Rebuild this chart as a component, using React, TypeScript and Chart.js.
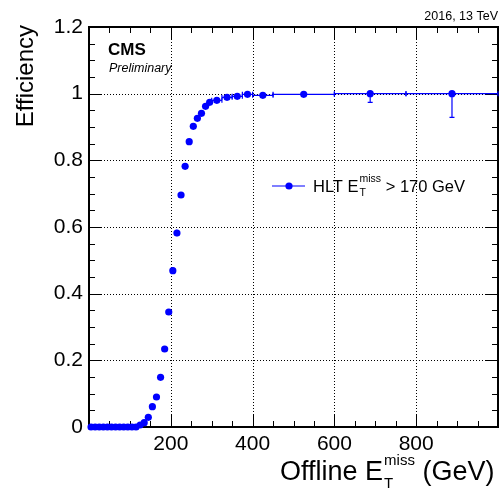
import React, { useEffect, useRef } from 'react';
import { Chart, registerables } from 'chart.js';

Chart.register(...registerables);

const FONT = '"Liberation Sans", Arial, Helvetica, sans-serif';
const BLUE = '#0000ff';

// Bin edges of the efficiency histogram (GeV)
const binEdges = [
  0, 10, 20, 30, 40, 50, 60, 70, 80, 90, 100, 110, 120, 130, 140, 150, 160, 170, 180, 190,
  200, 210, 220, 230, 240, 250, 260, 270, 280, 290, 300, 325, 350, 375, 400, 450, 600, 775, 1000,
];

// Efficiency per bin
const efficiency = [
  0, 0, 0, 0, 0, 0, 0, 0, 0, 0, 0, 0,
  0.006, 0.013, 0.029, 0.061, 0.09, 0.149, 0.234, 0.345, 0.469, 0.582, 0.696, 0.782, 0.856, 0.902,
  0.926, 0.941, 0.962, 0.974,
  0.98, 0.989, 0.992, 0.998, 0.995, 0.998, 1.0, 1.0,
];

// Asymmetric errors
const errLow = [
  0, 0, 0, 0, 0, 0, 0, 0, 0, 0, 0, 0,
  0.002, 0.003, 0.004, 0.005, 0.006, 0.007, 0.008, 0.009, 0.01, 0.01, 0.009, 0.008, 0.007, 0.006,
  0.006, 0.005, 0.005, 0.004,
  0.004, 0.004, 0.004, 0.003, 0.004, 0.004, 0.026, 0.071,
];
const errHigh = [
  0.001, 0.001, 0.001, 0.001, 0.001, 0.001, 0.001, 0.001, 0.001, 0.001, 0.001, 0.001,
  0.002, 0.003, 0.004, 0.005, 0.006, 0.007, 0.008, 0.009, 0.01, 0.01, 0.009, 0.008, 0.007, 0.006,
  0.006, 0.005, 0.004, 0.004,
  0.004, 0.003, 0.003, 0.002, 0.003, 0.002, 0, 0,
];

const xGridValues = [200, 400, 600, 800];
const yGridValues = [0.2, 0.4, 0.6, 0.8, 1.0];

const legendLabel = { main: 'HLT E', sub: 'T', sup: 'miss', tail: ' > 170 GeV' };
const xTitle = { main: 'Offline E', sub: 'T', sup: 'miss', tail: ' (GeV)' };
const yTitle = 'Efficiency';

const MARKER_R = 3.6;

function drawRich(ctx: CanvasRenderingContext2D, x: number, base: number, size: number, small: number,
  t: { main: string; sub: string; sup: string; tail: string }, subDy: number, supDy: number) {
  ctx.textAlign = 'left';
  ctx.textBaseline = 'alphabetic';
  ctx.font = `${size}px ${FONT}`;
  ctx.fillText(t.main, x, base);
  let cx = x + ctx.measureText(t.main).width + 1;
  ctx.font = `${small}px ${FONT}`;
  const w1 = ctx.measureText(t.sub).width;
  const w2 = ctx.measureText(t.sup).width;
  ctx.fillText(t.sub, cx, base + subDy);
  ctx.fillText(t.sup, cx, base - supDy);
  cx += Math.max(w1, w2);
  ctx.font = `${size}px ${FONT}`;
  ctx.fillText(t.tail, cx, base);
}

const rootPlugin = {
  id: 'rootStyle',
  beforeDatasetsDraw(chart: any) {
    const { ctx, chartArea: a, scales } = chart;
    const x = scales.x;
    const y = scales.y;
    ctx.save();
    // dotted grid
    ctx.strokeStyle = '#000';
    ctx.lineWidth = 1;
    ctx.setLineDash([1, 2]);
    for (const v of xGridValues) {
      const px = Math.round(x.getPixelForValue(v)) + 0.5;
      ctx.beginPath(); ctx.moveTo(px, a.top); ctx.lineTo(px, a.bottom); ctx.stroke();
    }
    for (const v of yGridValues) {
      const py = Math.round(y.getPixelForValue(v)) + 0.5;
      ctx.beginPath(); ctx.moveTo(a.left, py); ctx.lineTo(a.right, py); ctx.stroke();
    }
    ctx.setLineDash([]);
    // ticks (inside, all four sides)
    ctx.lineWidth = 1;
    for (let v = 50; v < 1000; v += 50) {
      const px = Math.round(x.getPixelForValue(v)) + 0.5;
      const len = v % 200 === 0 ? 12 : 6;
      ctx.beginPath();
      ctx.moveTo(px, a.bottom); ctx.lineTo(px, a.bottom - len);
      ctx.moveTo(px, a.top); ctx.lineTo(px, a.top + len);
      ctx.stroke();
    }
    for (let k = 1; k < 24; k++) {
      const v = k * 0.05;
      const py = Math.round(y.getPixelForValue(v)) + 0.5;
      const len = k % 4 === 0 ? 12 : 6;
      ctx.beginPath();
      ctx.moveTo(a.left, py); ctx.lineTo(a.left + len, py);
      ctx.moveTo(a.right, py); ctx.lineTo(a.right - len, py);
      ctx.stroke();
    }
    // frame
    ctx.lineWidth = 2;
    ctx.strokeRect(a.left, a.top, a.right - a.left, a.bottom - a.top);
    // error bars
    ctx.strokeStyle = BLUE;
    ctx.lineWidth = 1.2;
    const cap = 2.5;
    for (let i = 0; i < efficiency.length; i++) {
      const xl = x.getPixelForValue(binEdges[i]);
      const xh = x.getPixelForValue(binEdges[i + 1]);
      const xc = x.getPixelForValue((binEdges[i] + binEdges[i + 1]) / 2);
      const yc = y.getPixelForValue(efficiency[i]);
      const yl = y.getPixelForValue(efficiency[i] - errLow[i]);
      const yh = y.getPixelForValue(efficiency[i] + errHigh[i]);
      ctx.beginPath();
      ctx.moveTo(xl, yc); ctx.lineTo(xh, yc);
      ctx.moveTo(xc, yl); ctx.lineTo(xc, yh);
      if (xc - xl > MARKER_R + 1) {
        ctx.moveTo(xl, yc - cap); ctx.lineTo(xl, yc + cap);
        ctx.moveTo(xh, yc - cap); ctx.lineTo(xh, yc + cap);
      }
      if (yl - yc > MARKER_R + 2) { ctx.moveTo(xc - cap, yl); ctx.lineTo(xc + cap, yl); }
      if (yc - yh > MARKER_R + 2) { ctx.moveTo(xc - cap, yh); ctx.lineTo(xc + cap, yh); }
      ctx.stroke();
    }
    ctx.restore();
  },
  afterDatasetsDraw(chart: any) {
    const { ctx } = chart;
    ctx.save();
    ctx.fillStyle = '#000';
    // CMS labels
    ctx.textAlign = 'left';
    ctx.textBaseline = 'alphabetic';
    ctx.font = `bold 17px ${FONT}`;
    ctx.fillText('CMS', 108, 55);
    ctx.font = `italic 12.5px ${FONT}`;
    ctx.fillText('Preliminary', 109, 72);
    ctx.textAlign = 'right';
    ctx.font = `12.5px ${FONT}`;
    ctx.fillText('2016, 13 TeV', 498, 20);
    // y title
    ctx.save();
    ctx.translate(33, 25);
    ctx.rotate(-Math.PI / 2);
    ctx.textAlign = 'right';
    ctx.font = `24px ${FONT}`;
    ctx.fillText(yTitle, 0, 0);
    ctx.restore();
    // x title
    drawRich(ctx, 280, 480, 27, 15, xTitle, 8, 15);
    // legend
    ctx.strokeStyle = BLUE;
    ctx.fillStyle = BLUE;
    ctx.lineWidth = 1.2;
    ctx.beginPath(); ctx.moveTo(272, 186); ctx.lineTo(305, 186); ctx.stroke();
    ctx.beginPath(); ctx.arc(289, 186, MARKER_R, 0, Math.PI * 2); ctx.fill();
    ctx.fillStyle = '#000';
    drawRich(ctx, 313, 191.5, 16.5, 10.5, legendLabel, 4, 10);
    ctx.restore();
  },
};

export default function App() {
  const ref = useRef<HTMLCanvasElement | null>(null);
  useEffect(() => {
    if (!ref.current) return;
    const points = efficiency.map((e, i) => ({ x: (binEdges[i] + binEdges[i + 1]) / 2, y: e }));
    const chart = new Chart(ref.current, {
      type: 'scatter',
      data: {
        datasets: [{
          label: 'HLT',
          data: points,
          pointRadius: MARKER_R,
          pointHoverRadius: MARKER_R,
          pointBackgroundColor: BLUE,
          pointBorderColor: BLUE,
          pointBorderWidth: 0,
          showLine: false,
          clip: false as any,
        }],
      },
      options: {
        responsive: false,
        animation: false,
        devicePixelRatio: 1,
        events: [],
        layout: { padding: { left: 0, right: 5, top: 27, bottom: 0 } },
        plugins: { legend: { display: false }, tooltip: { enabled: false } },
        scales: {
          x: {
            type: 'linear', min: 0, max: 1000,
            afterFit: (s: any) => { s.height = 63; },
            grid: { display: false, drawTicks: false },
            border: { display: false },
            ticks: {
              stepSize: 200, padding: 5, color: '#000', maxRotation: 0, autoSkip: false,
              font: { family: FONT, size: 21 },
              callback: (v: any) => (v === 0 || v === 1000 ? '' : String(v)),
            },
          },
          y: {
            type: 'linear', min: 0, max: 1.2,
            afterFit: (s: any) => { s.width = 89; },
            grid: { display: false, drawTicks: false },
            border: { display: false },
            ticks: {
              stepSize: 0.2, padding: 6, color: '#000', autoSkip: false,
              font: { family: FONT, size: 21 },
              callback: (v: any) => String(Math.round(Number(v) * 10) / 10),
            },
          },
        },
      },
      plugins: [rootPlugin],
    });
    return () => chart.destroy();
  }, []);
  return (
    <div style={{ position: 'fixed', left: 0, top: 0, width: 503, height: 490, background: '#fff' }}>
      <canvas ref={ref} width={503} height={490} style={{ width: 503, height: 490, display: 'block' }} />
    </div>
  );
}
